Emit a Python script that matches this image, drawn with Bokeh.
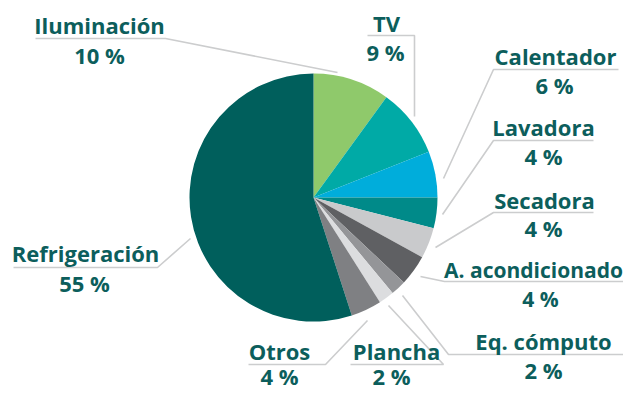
import math
from bokeh.plotting import figure
from bokeh.models import Range1d
from bokeh.core.properties import value
from bokeh.embed import file_html
from bokeh.resources import INLINE

# ---- data ----
categories = ["Iluminación", "TV", "Calentador", "Lavadora", "Secadora",
              "A. acondicionado", "Eq. cómputo", "Plancha", "Otros", "Refrigeración"]
shares = [10, 9, 6, 4, 4, 4, 2, 2, 4, 55]
colors = ["#8fc96b", "#00aaa6", "#00addb", "#008a89", "#c9cacc",
          "#5f6063", "#949598", "#dcdddf", "#7f8083", "#005f5c"]

# ---- layout (picture pixel coordinates, origin top-left) ----
W, H = 623, 390
CX, CY, R = 313, 197, 124
TEXT_COLOR = "#0c5e5c"
LINE_COLOR = "#cccdce"
FONT = "Open Sans"

# name centre x, name y (cap middle), percent centre x, percent y, font size
label_pos = {
    "Iluminación": (99, 24, 99, 54, "22px"),
    "TV": (386, 22, 385, 51, "22px"),
    "Calentador": (555, 55, 554, 84, "22px"),
    "Lavadora": (543, 126, 543, 155, "22px"),
    "Secadora": (544, 199, 543, 227, "22px"),
    "A. acondicionado": (533, 269, 540, 298, "21px"),
    "Eq. cómputo": (543, 340, 543, 369, "22px"),
    "Plancha": (396, 350, 391, 375, "22px"),
    "Otros": (279, 350, 279, 375, "22px"),
    "Refrigeración": (85, 252, 84, 282, "22px"),
}
# leader polylines: near pie -> elbow -> underline end
leaders = {
    "Iluminación": [(337, 72), (165, 38), (35, 38)],
    "TV": [(414, 116), (414, 35), (367, 35)],
    "Calentador": [(443, 178), (493, 69), (618, 69)],
    "Lavadora": [(442, 214), (493, 140), (593, 140)],
    "Secadora": [(435, 247), (493, 212), (593, 212)],
    "A. acondicionado": [(420, 276), (444, 281), (623, 281)],
    "Eq. cómputo": [(402, 295), (448, 354), (623, 354)],
    "Plancha": [(388, 305), (443, 364), (350, 364)],
    "Otros": [(367, 320), (325, 364), (248, 364)],
    "Refrigeración": [(190, 238), (157, 267), (13, 267)],
}


def Y(sy):
    return H - sy  # picture y -> data y


p = figure(width=W, height=H, output_backend="svg", toolbar_location=None,
           x_range=Range1d(0, W), y_range=Range1d(0, H),
           x_axis_type=None, y_axis_type=None, min_border=0)
p.outline_line_color = None
p.grid.visible = False
p.background_fill_color = "white"
p.border_fill_color = "white"

# wedges from the data, clockwise from 12 o'clock
total = sum(shares)
cum = 0
starts, ends = [], []
for s in shares:
    a0 = math.pi / 2 - 2 * math.pi * cum / total
    cum += s
    a1 = math.pi / 2 - 2 * math.pi * cum / total
    starts.append(a0)
    ends.append(a1)

p.wedge(x=[CX] * len(shares), y=[Y(CY)] * len(shares), radius=R,
        start_angle=starts, end_angle=ends, direction="clock",
        fill_color=colors, line_color=None)

# leader lines
for cat in categories:
    pts = leaders[cat]
    p.line([q[0] for q in pts], [Y(q[1]) for q in pts],
           line_color=LINE_COLOR, line_width=1.6)

# labels
for cat, s in zip(categories, shares):
    nx, ny, px, py, fs = label_pos[cat]
    p.text(x=[nx], y=[Y(ny)], text=[cat], text_align="center",
           text_baseline="alphabetic", text_font=value(FONT),
           text_font_style="bold", text_font_size=fs, text_color=TEXT_COLOR)
    p.text(x=[px], y=[Y(py)], text=[f"{s} %"], text_align="center",
           text_baseline="alphabetic", text_font=value(FONT),
           text_font_style="bold", text_font_size=fs, text_color=TEXT_COLOR)

open("out.html", "w").write(file_html(p, INLINE))
